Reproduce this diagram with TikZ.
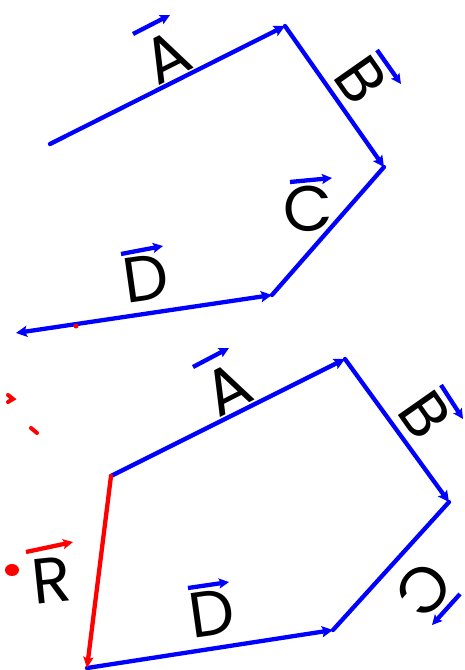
\documentclass[tikz,border=0pt]{standalone}
\usepackage{fontspec}
\setmainfont{Poppins}
\usetikzlibrary{arrows.meta}
\definecolor{vblue}{RGB}{0,0,255}
\definecolor{vred}{RGB}{255,0,0}
\tikzset{
  vec/.style={draw=vblue,line width=4.3pt,line cap=round},
  tipend/.style={-{Stealth[length=11pt,width=11pt,inset=2pt]}},
  overarr/.style={draw=vblue,line width=4.3pt,-{Stealth[length=10pt,width=10pt,inset=2pt]}},
  lab/.style={inner sep=0pt,font=\fontsize{64}{64}\selectfont},
  redmark/.style={draw=vred,line width=4pt,line cap=round}
}
\begin{document}
\begin{tikzpicture}[x=1pt,y=-1pt]
\useasboundingbox (0,0) rectangle (464,670);
% ---------- top polygon ----------
\coordinate (a0) at (50,144);
\coordinate (a1) at (285,26);
\coordinate (b1) at (384,167);
\coordinate (c1) at (272,295);
\coordinate (d1) at (16,333);
\draw[vec,tipend] (a0) -- (a1);
\draw[vec,tipend] (a1) -- (b1);
\draw[vec] (b1) -- (c1);
\draw[vec,{Stealth[length=11pt,width=11pt,inset=2pt]}-{Stealth[length=11pt,width=11pt,inset=2pt]}] (d1) -- (c1);
\fill[vred] (76,326) circle (2.5pt);
% labels top
\node[lab,rotate=26.7] (tA) at (167,57) {A};
\draw[overarr] (133,34) -- (170,15);
\node[lab,rotate=-55] (tB) at (361,80) {B};
\draw[overarr] (377,50) -- (401,84);
\node[lab,rotate=3] (tC) at (308,209) {C};
\draw[overarr] (290,182) -- (332,178);
\node[lab,rotate=8] (tD) at (146,278) {D};
\draw[overarr] (121,254) -- (163,246);
% ---------- bottom polygon ----------
\coordinate (p0) at (111,476);
\coordinate (p1) at (345,359);
\coordinate (p2) at (449,502);
\coordinate (p3) at (333,630);
\coordinate (p4) at (87,668);
\draw[vec,tipend] (p0) -- (p1);
\draw[vec,tipend] (p1) -- (p2);
\draw[vec] (p2) -- (p3);
\draw[vec,tipend] (p4) -- (p3);
\draw[draw=vred,line width=4.3pt,line cap=round,-{Stealth[length=11pt,width=10pt,inset=2pt]}] (p0) -- (p4);
% labels bottom
\node[lab,rotate=27] (bA) at (228,389) {A};
\draw[overarr] (193,367) -- (229,348);
\node[lab,rotate=-55] (bB) at (425,415) {B};
\draw[overarr] (441,385) -- (463,419);
\node[lab,rotate=-132] (bC) at (424,590) {C};
\draw[overarr] (460,594) -- (432,625);
\node[lab,rotate=8] (bD) at (212,613) {D};
\draw[overarr] (188,588) -- (229,582);
\node[lab,rotate=6] (bR) at (52,580) {R};
\draw[overarr,draw=vred] (26,552) -- (73,542);
% stray red marks
\draw[redmark] (8,395) -- (13,399) -- (8,402);
\draw[redmark] (31,428) -- (37,433);
\fill[vred] (12,570) ellipse (7pt and 6pt);
\end{tikzpicture}
\end{document}
